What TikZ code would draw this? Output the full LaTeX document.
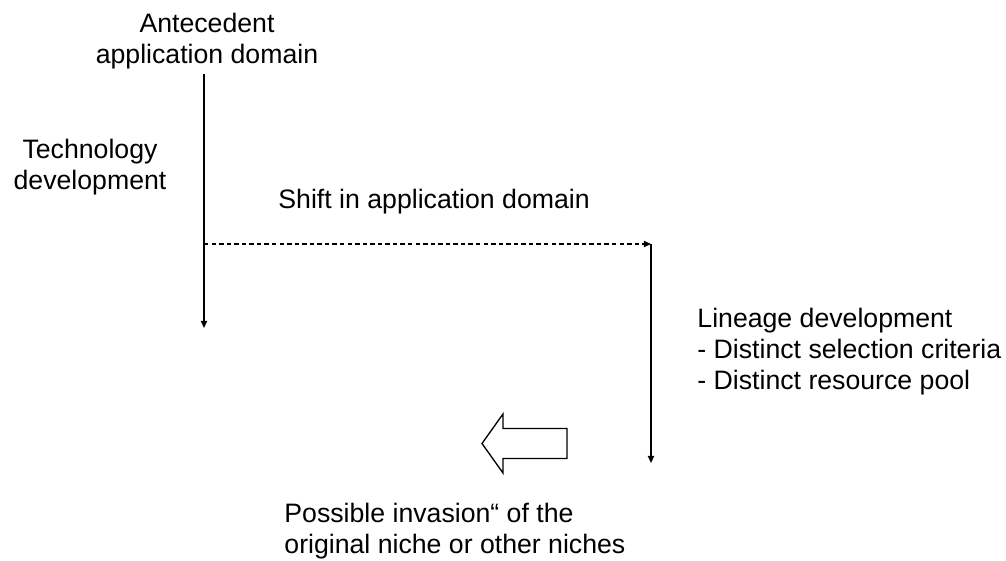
\documentclass[tikz,border=0pt]{standalone}
\usepackage{fontspec}
\setmainfont{Liberation Sans}
\usetikzlibrary{arrows.meta}
\tikzset{
  felirat/.style={inner sep=0pt,font=\fontsize{12}{14}\selectfont},
  vonal/.style={line width=0.7pt,-{Triangle[length=3.2pt,width=2.8pt]}},
  szagg/.style={vonal,dash pattern=on 2pt off 1.4pt},
  blokk/.style={draw,line width=0.6pt,fill=white},
}

\begin{document}
\begin{tikzpicture}[x=0.45pt,y=-0.45pt]
  \useasboundingbox (0,0) rectangle (1006,560);
  \coordinate (fent) at (204,74);
  \coordinate (le) at (204,328);
  \coordinate (elag) at (204,244);
  \coordinate (fordul) at (651,244);
  \coordinate (vege) at (651,463);
  \node[felirat,anchor=north,align=center] (eredet) at (207,12.5) {Antecedent\\application domain};
  \node[felirat,anchor=north,align=center] (techn) at (90,138.5) {Technology\\development};
  \node[felirat,anchor=north west] (valtas) at (278,188.5) {Shift in application domain};
  \node[felirat,anchor=north west,align=left] (vonalfejl) at (697,307.5)
    {Lineage development\\- Distinct selection criteria\\- Distinct resource pool};
  \node[felirat,anchor=north west,align=left] (invazio) at (284,502.5)
    {Possible invasion“ of the\\original niche or other niches};
  \draw[vonal] (fent) -- (le);
  \draw[szagg] (elag) -- (fordul);
  \draw[vonal] (fordul) -- (vege);
  \draw[blokk] (482,443.5) -- (503,414) -- (503,428.5) -- (567,428.5) -- (567,458.5)
    -- (503,458.5) -- (503,473) -- cycle;
\end{tikzpicture}
\end{document}
